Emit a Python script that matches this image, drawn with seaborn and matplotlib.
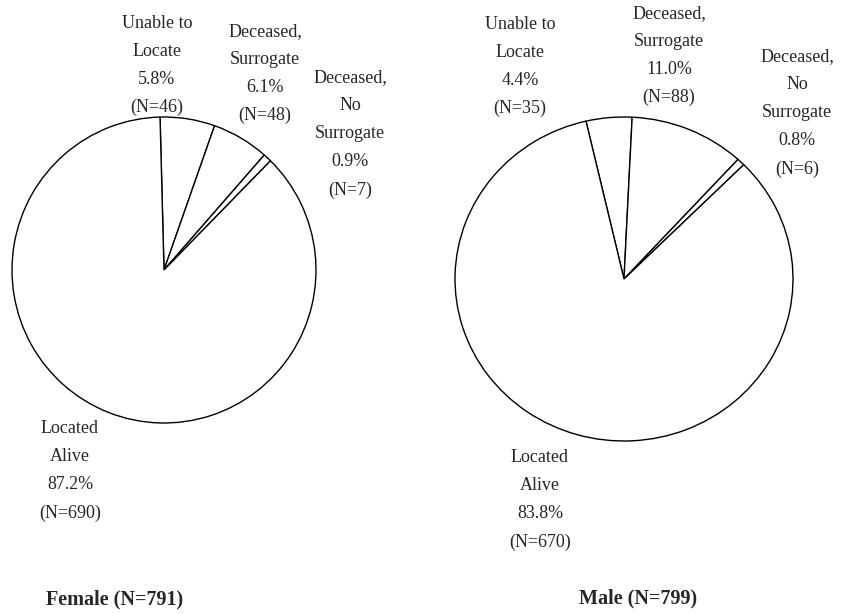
import matplotlib
matplotlib.use("Agg")
import matplotlib.pyplot as plt
import seaborn as sns

W, H = 845, 614

CATEGORIES = ["Unable to\nLocate", "Deceased,\nSurrogate", "Deceased,\nNo\nSurrogate", "Located\nAlive"]

FEMALE_N = [46, 48, 7, 690]
FEMALE_PCT = [5.8, 6.1, 0.9, 87.2]
FEMALE_TITLE = "Female (N=791)"

MALE_N = [35, 88, 6, 670]
MALE_PCT = [4.4, 11.0, 0.8, 83.8]
MALE_TITLE = "Male (N=799)"

LABEL_SIZE = 13
TITLE_SIZE = 14.5
LINE_SPACING = 1.85

sns.set_theme(style="white")
plt.rcParams["font.family"] = ["Liberation Serif", "DejaVu Serif"]


def px_rect(cx, cy, rx, ry):
    # axes rectangle (figure fraction) for a pie centred at pixel (cx, cy)
    return [(cx - rx) / W, (H - cy - ry) / H, 2 * rx / W, 2 * ry / H]


def draw_pie(fig, counts, pcts, title, rect, start, label_pos, title_pos):
    ax = fig.add_axes(rect)
    wedges, _ = ax.pie(
        counts,
        startangle=start,
        counterclock=False,
        colors=["white"] * len(counts),
        wedgeprops={"edgecolor": "black", "linewidth": 1.0},
    )
    for w in wedges:
        w.set_clip_on(False)
    ax.set_aspect("auto")
    ax.set_xlim(-1, 1)
    ax.set_ylim(-1, 1)
    ax.axis("off")

    for name, n, p, (x, y) in zip(CATEGORIES, counts, pcts, label_pos):
        fig.text(
            x / W, 1 - y / H,
            f"{name}\n{p:.1f}%\n(N={n})",
            ha="center", va="center", multialignment="center",
            fontsize=LABEL_SIZE, linespacing=LINE_SPACING,
        )
    fig.text(
        title_pos[0] / W, 1 - title_pos[1] / H, title,
        ha="center", va="center", fontsize=TITLE_SIZE, fontweight="bold",
    )


fig = plt.figure(figsize=(W / 100, H / 100), dpi=100)
fig.patch.set_facecolor("white")

draw_pie(
    fig, FEMALE_N, FEMALE_PCT, FEMALE_TITLE,
    px_rect(164, 270, 152, 153), 91.5,
    [(157, 65.5), (265, 73.5), (350, 134), (70, 471)],
    (115, 599),
)
draw_pie(
    fig, MALE_N, MALE_PCT, MALE_TITLE,
    px_rect(624, 279, 169, 162), 103,
    [(520, 66.5), (669, 55.5), (797, 113), (540, 500)],
    (638, 598),
)

fig.savefig("out.png", dpi=100, facecolor="white")
